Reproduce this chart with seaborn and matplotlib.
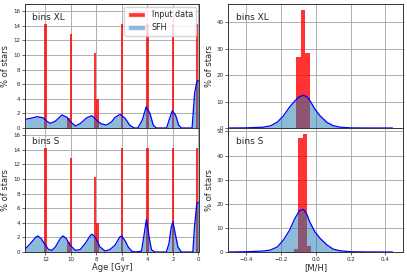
import numpy as np
import matplotlib
matplotlib.use("Agg")
import matplotlib.pyplot as plt
from matplotlib.patches import Patch
import seaborn as sns

# input data (ages in Gyr, % of stars)
in_age = [12.0, 10.18, 10.0, 8.1, 7.92, 6.0, 4.0, 2.0, 0.09]
in_pct = [14.3, 1.4, 12.9, 10.3, 4.0, 14.2, 14.3, 14.3, 14.3]
age_binw = 0.18

# recovered SFH, bins XL
age_xl = [13.55, 13.15, 12.65, 12.2, 11.85, 11.6, 11.2, 10.7, 10.3, 10.05, 9.65, 9.25,
          8.75, 8.35, 7.95, 7.6, 7.2, 6.8, 6.55, 6.15, 5.75, 5.4, 5.05, 4.75, 4.4, 4.1,
          3.8, 3.55, 3.3, 2.5, 2.3, 2.05, 1.8, 1.55, 1.35, 0.5, 0.3, 0.13, 0.0]
sfh_xl = [1.2, 1.33, 1.55, 1.41, 0.87, 0.64, 0.96, 1.78, 1.46, 0.87, 0.27, 0.64,
          1.41, 1.69, 1.0, 0.55, 0.41, 0.87, 1.45, 1.87, 1.33, 0.41, 0.0, 0.0, 1.1, 2.9,
          2.0, 0.4, 0.0, 0.0, 1.1, 2.37, 1.78, 0.4, 0.0, 0.0, 4.76, 6.35, 6.5]

# recovered SFH, bins S
age_s = [13.56, 13.17, 12.78, 12.6, 12.34, 12.0, 11.75, 11.48, 11.22, 10.83, 10.62, 10.37,
         10.05, 9.66, 9.27, 8.88, 8.5, 8.36, 8.11, 7.72, 7.33, 6.94, 6.55, 6.16, 6.03,
         5.77, 5.51, 5.25, 4.99, 4.47, 4.29, 4.08, 3.87, 3.69, 3.43, 2.52, 2.31, 2.13,
         2.0, 1.85, 1.61, 1.35, 0.44, 0.31, 0.13, 0.0]
sfh_s = [0.47, 1.16, 1.99, 2.2, 1.85, 0.92, 0.33, 0.23, 0.69, 1.85, 2.2, 1.85,
         0.92, 0.23, 0.33, 1.16, 2.2, 2.44, 2.07, 0.69, 0.14, 0.33, 0.92, 2.07, 2.2,
         1.6, 0.69, 0.14, 0.0, 0.1, 2.07, 4.47, 2.07, 0.33, 0.0, 0.0, 1.16, 3.45,
         4.14, 2.76, 0.69, 0.0, 0.0, 3.45, 6.68, 6.8]

# metallicity input
mh_edges_xl = [-0.11, -0.085, -0.06, -0.035]
mh_pct_xl = [26.8, 44.7, 28.5]
mh_edges_s = [-0.125, -0.1, -0.075, -0.05, -0.025]
mh_pct_s = [1.2, 47.5, 49.0, 2.3]

# recovered metallicity distribution
mh_pts = [-0.5, -0.4, -0.3, -0.26, -0.22, -0.185, -0.15, -0.12, -0.095, -0.07,
          -0.05, -0.035, -0.005, 0.025, 0.065, 0.1, 0.14, 0.2, 0.3, 0.44]
mdf_xl = [0.0, 0.05, 0.3, 0.8, 2.2, 4.6, 7.9, 10.2, 11.8, 12.4,
          11.8, 10.6, 7.2, 4.6, 2.1, 0.9, 0.3, 0.05, 0.0, 0.0]
mdf_s = [0.0, 0.1, 0.4, 0.8, 2.1, 5.0, 9.0, 13.8, 17.0, 17.7,
         15.6, 12.6, 8.4, 5.7, 2.9, 1.2, 0.5, 0.1, 0.02, 0.0]

labels = ["bins XL", "bins S"]

sns.set_style("ticks")
plt.rcParams.update({
    "axes.grid": True,
    "grid.color": "#b0b0b0",
    "grid.linewidth": 0.7,
    "axes.edgecolor": "#333333",
    "axes.linewidth": 0.7,
    "xtick.labelsize": 4,
    "ytick.labelsize": 4,
    "xtick.major.size": 2,
    "ytick.major.size": 2,
    "xtick.major.width": 0.5,
    "ytick.major.width": 0.5,
    "xtick.major.pad": 1.5,
    "ytick.major.pad": 1.5,
})
plt.rcParams["font.family"] = ["DejaVu Sans"]

fig, axes = plt.subplots(2, 2, figsize=(4.07, 2.76), dpi=100, sharex="col")
fig.subplots_adjust(left=0.0614, right=0.990, bottom=0.087, top=0.9855,
                    wspace=0.166, hspace=0)

# age edges around each input age
edges = np.unique(np.round(np.concatenate([np.array(in_age) - age_binw / 2,
                                           np.array(in_age) + age_binw / 2]), 3))
edges = [float(e) for e in edges]

sfh_ages = [age_xl, age_s]
sfh_vals = [sfh_xl, sfh_s]
mh_edges = [mh_edges_xl, mh_edges_s]
mh_pcts = [mh_pct_xl, mh_pct_s]
mdfs = [mdf_xl, mdf_s]

for i in range(2):
    # age panel
    ax = axes[i, 0]
    sns.histplot(x=in_age, weights=in_pct, bins=edges, ax=ax, color="red",
                 alpha=0.8, linewidth=0)
    ax.fill_between(sfh_ages[i], sfh_vals[i], color="tab:blue", alpha=0.5, lw=0)
    sns.lineplot(x=sfh_ages[i], y=sfh_vals[i], ax=ax, color="blue", lw=0.9)
    ax.set_ylim(0, 17)
    ax.set_yticks(range(0, 17, 2))
    ax.set_ylabel("% of stars", fontsize=6, labelpad=2)
    ax.text(0.04, 0.87, labels[i], transform=ax.transAxes, fontsize=6.5)

    # metallicity panel
    ax = axes[i, 1]
    centers = [(a + b) / 2 for a, b in zip(mh_edges[i][:-1], mh_edges[i][1:])]
    sns.histplot(x=centers, weights=mh_pcts[i], bins=mh_edges[i], ax=ax,
                 color="red", alpha=0.8, linewidth=0)
    ax.fill_between(mh_pts, mdfs[i], color="tab:blue", alpha=0.5, lw=0)
    sns.lineplot(x=mh_pts, y=mdfs[i], ax=ax, color="blue", lw=0.9)
    ax.set_ylim(bottom=0)
    ax.set_ylabel("% of stars", fontsize=6, labelpad=2)
    ax.text(0.045, 0.87, labels[i], transform=ax.transAxes, fontsize=6.5)

axes[1, 0].set_xlim(13.6, -0.08)
axes[1, 0].set_xticks([12, 10, 8, 6, 4, 2, 0])
axes[1, 1].set_xlim(-0.5, 0.5)
axes[1, 1].set_xticks([-0.4, -0.2, 0.0, 0.2, 0.4])
axes[1, 0].set_xlabel("Age [Gyr]", fontsize=6, labelpad=1)
axes[1, 1].set_xlabel("[M/H]", fontsize=6, labelpad=1)
axes[0, 0].set_xlabel("")
axes[0, 1].set_xlabel("")

handles = [Patch(facecolor="red", alpha=0.8, label="Input data"),
           Patch(facecolor="tab:blue", alpha=0.5, label="SFH")]
axes[0, 0].legend(handles=handles, loc="upper right", fontsize=5.8,
                  borderaxespad=0.4, handlelength=2.2)

fig.savefig("out.png", dpi=100)
